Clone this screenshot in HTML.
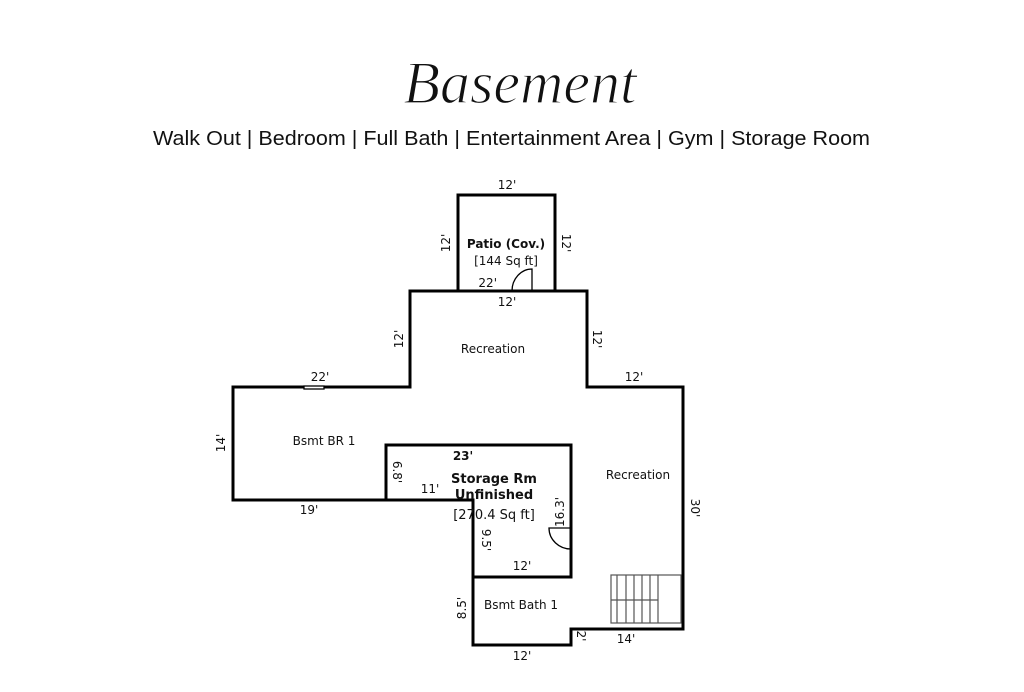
<!DOCTYPE html>
<html><head><style>
body{margin:0;background:#fff;width:1024px;height:692px;overflow:hidden}
svg{display:block}
</style></head><body>
<svg width="1024" height="692" viewBox="0 0 1024 692" xmlns="http://www.w3.org/2000/svg">
<text x="520" y="103" text-anchor="middle" font-family="Liberation Serif, serif" font-style="italic" font-size="60" fill="#111" stroke="#fff" stroke-width="1.2">Basement</text>
<text x="153" y="145" textLength="717" lengthAdjust="spacingAndGlyphs" font-family="Liberation Sans, sans-serif" font-size="20" fill="#111">Walk Out | Bedroom | Full Bath | Entertainment Area | Gym | Storage Room</text>
<g fill="none" stroke="#000" stroke-width="3" stroke-linejoin="miter">
<rect x="458" y="195" width="97" height="96"/>
<path d="M410 387 V291 H587 V387 H683 V629 H571 V645 H473 V500 H233 V387 Z"/>
<path d="M473 500 H386 V445 H571 V577 H473"/>
</g>
<g fill="none" stroke="#000" stroke-width="1.3">
<path d="M532 291 V269 A20 22 0 0 0 512 291"/>
<path d="M571 528 H549 A22 21 0 0 0 571 549"/>
<rect x="304" y="386" width="20" height="3" fill="#fff"/>
</g>
<g stroke="#555" stroke-width="1.2" fill="none">
<rect x="611" y="575" width="70" height="48"/>
<path d="M617 575V623M626 575V623M634 575V623M642 575V623M650 575V623M658 575V623M611 600H658"/>
</g>
<g font-family="DejaVu Sans, sans-serif" font-size="12" fill="#111" text-anchor="middle">
<text x="507" y="189">12'</text>
<text x="507" y="306">12'</text>
<text x="497" y="287" text-anchor="end">22'</text>
<text x="320" y="381">22'</text>
<text x="634" y="381">12'</text>
<text x="309" y="514">19'</text>
<text x="463" y="460" font-weight="bold">23'</text>
<text x="430" y="493">11'</text>
<text x="522" y="570">12'</text>
<text x="522" y="660">12'</text>
<text x="626" y="643">14'</text>
<text x="493" y="353">Recreation</text>
<text x="324" y="445">Bsmt BR 1</text>
<text x="638" y="479">Recreation</text>
<text x="521" y="609">Bsmt Bath 1</text>
<text x="506" y="248" font-weight="bold">Patio (Cov.)</text>
<text x="506" y="265">[144 Sq ft]</text>
<text x="494" y="483" font-size="13" font-weight="bold">Storage Rm</text>
<text x="494" y="499" font-size="13" font-weight="bold">Unfinished</text>
<text x="494" y="519" font-size="13">[270.4 Sq ft]</text>
<text transform="translate(450,243) rotate(-90)">12'</text>
<text transform="translate(562,243) rotate(90)">12'</text>
<text transform="translate(403,339) rotate(-90)">12'</text>
<text transform="translate(593,339) rotate(90)">12'</text>
<text transform="translate(225,443) rotate(-90)">14'</text>
<text transform="translate(691,508) rotate(90)">30'</text>
<text transform="translate(393,472) rotate(90)">6.8'</text>
<text transform="translate(482,540) rotate(90)">9.5'</text>
<text transform="translate(564,512) rotate(-90)">16.3'</text>
<text transform="translate(466,608) rotate(-90)">8.5'</text>
<text transform="translate(577,636) rotate(90)">2'</text>
</g>
</svg>
</body></html>
